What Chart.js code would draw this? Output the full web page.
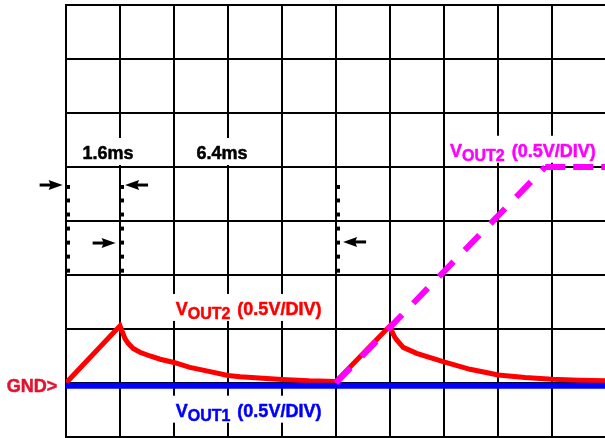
<!DOCTYPE html>
<html lang="en">
<head>
<meta charset="UTF-8">
<title>VOUT1 / VOUT2 scope capture</title>
<style>
  html, body { margin: 0; padding: 0; background: #fff; overflow: hidden; }
  #wrap { width: 606px; height: 438px; }
</style>
</head>
<body>
<div id="wrap"><canvas id="scope"></canvas></div>
<script src="https://cdn.jsdelivr.net/npm/chart.js"></script>
<script>
// x = time in ms (1.6ms/div), y = volts (0.5V/div), GND at 0
const xTicks = [0, 1.6, 3.2, 4.8, 6.4, 8.0, 9.6, 11.2, 12.8, 14.4, 16.0];
const yTicks = [-0.5, 0, 0.5, 1.0, 1.5, 2.0, 2.5, 3.0, 3.5];

// VOUT1 (blue) sits on ground
const vout1T = [0, 16];
const vout1V = [-0.025, -0.025];

// VOUT2 red trace: two ramps, each followed by a decay
const vout2T = [0, 1.6, 1.68, 1.75, 1.85, 1.99, 2.19, 2.49, 2.79, 3.2, 3.67, 4.27, 4.8, 5.16, 6.4, 7.2, 8.0,
                9.6, 9.68, 9.75, 9.8, 9.99, 10.39, 11.2, 11.97, 12.56, 12.8, 13.6, 14.4, 15.2, 16.0];
const vout2V = [0, 0.53, 0.465, 0.41, 0.365, 0.32, 0.285, 0.25, 0.22, 0.19, 0.145, 0.105, 0.07, 0.057, 0.032, 0.02, 0.014,
                0.53, 0.46, 0.42, 0.398, 0.33, 0.275, 0.195, 0.127, 0.09, 0.074, 0.05, 0.034, 0.026, 0.021];

// VOUT2 magenta dashed trace
const rampT = [8.0, 14.2, 16.0];
const rampV = [0, 2.0, 2.0];

// dotted time markers
const markerT = [0.06, 1.66, 8.06];
const markerV = [1.815, 1.69, 1.56, 1.43, 1.30, 1.17, 1.04];

// arrows: tip position, direction (1 = pointing right)
const arrowT = [-0.1, 1.75, 1.47, 8.21];
const arrowV = [1.833, 1.833, 1.296, 1.306];
const arrowDir = [1, -1, 1, -1];

const FONT = '"Liberation Sans", Arial, sans-serif';

const toPts = (ts, vs) => ts.map((t, i) => ({x: t, y: vs[i]}));

let markerPts = [];
markerT.forEach(t => markerV.forEach(v => markerPts.push({x: t, y: v})));

// text labels, anchored in data units
const labels = [
  {kind: 'plain', text: '1.6ms', x: 1.244, y: 2.074, color: '#000', align: 'center', box: true},
  {kind: 'plain', text: '6.4ms', x: 4.62, y: 2.074, color: '#000', align: 'center', box: true},
  {kind: 'v', sub: 'OUT2', x: 11.38, y: 2.095, color: '#ff00ff', box: true},
  {kind: 'v', sub: 'OUT2', x: 3.25, y: 0.63, color: '#ff0000', box: true},
  {kind: 'v', sub: 'OUT1', x: 3.25, y: -0.312, color: '#0000ff', box: true},
  {kind: 'plain', text: 'GND>', x: -0.258, y: -0.08, color: '#e3122e', align: 'right', box: false}
];

function labelWidth(ctx, l) {
  if (l.kind === 'plain') {
    ctx.font = 'bold 18px ' + FONT;
    return ctx.measureText(l.text).width;
  }
  ctx.font = 'bold 18px ' + FONT;
  let w = ctx.measureText('V').width;
  ctx.font = 'bold 16px ' + FONT;
  w += ctx.measureText(l.sub).width + 7;
  ctx.font = 'bold 18px ' + FONT;
  return w + ctx.measureText('(0.5V/DIV)').width;
}

// filled text with a thin outline in the same colour, to get the heavy look
function heavyText(ctx, s, x, y) {
  ctx.fillText(s, x, y);
  ctx.strokeText(s, x, y);
}

const overlay = {
  id: 'overlay',
  beforeDatasetsDraw(chart) {
    // white backing behind the labels (hides the grid there)
    const {ctx, scales: {x, y}} = chart;
    ctx.save();
    ctx.fillStyle = '#fff';
    labels.forEach(l => {
      if (!l.box) return;
      const w = labelWidth(ctx, l);
      const px = x.getPixelForValue(l.x), base = y.getPixelForValue(l.y);
      const left = l.align === 'center' ? px - w / 2 : px;
      ctx.fillRect(left - 5, base - 21, w + 10, 27);
    });
    ctx.restore();
  },
  afterDraw(chart) {
    const {ctx, scales: {x, y}} = chart;
    ctx.save();
    ctx.textBaseline = 'alphabetic';
    ctx.lineWidth = 0.5;
    ctx.lineJoin = 'round';
    labels.forEach(l => {
      const px = x.getPixelForValue(l.x), base = y.getPixelForValue(l.y);
      ctx.fillStyle = l.color;
      ctx.strokeStyle = l.color;
      if (l.kind === 'plain') {
        ctx.font = 'bold 18px ' + FONT;
        ctx.textAlign = l.align;
        heavyText(ctx, l.text, px, base);
        return;
      }
      ctx.textAlign = 'left';
      ctx.font = 'bold 18px ' + FONT;
      heavyText(ctx, 'V', px, base);
      let off = ctx.measureText('V').width;
      ctx.font = 'bold 16px ' + FONT;
      heavyText(ctx, l.sub, px + off, base + 4);
      off += ctx.measureText(l.sub).width + 7;
      ctx.font = 'bold 18px ' + FONT;
      heavyText(ctx, '(0.5V/DIV)', px + off, base);
    });

    // arrows
    ctx.fillStyle = '#000';
    ctx.strokeStyle = '#000';
    ctx.lineWidth = 3;
    arrowT.forEach((t, i) => {
      const tip = x.getPixelForValue(t), py = y.getPixelForValue(arrowV[i]), d = arrowDir[i];
      const neck = tip - d * 12, tail = tip - d * 23;
      ctx.beginPath();
      ctx.moveTo(tail, py);
      ctx.lineTo(neck + d, py);
      ctx.stroke();
      ctx.beginPath();
      ctx.moveTo(tip, py);
      ctx.lineTo(neck - d * 2, py - 5);
      ctx.lineTo(neck, py);
      ctx.lineTo(neck - d * 2, py + 5);
      ctx.closePath();
      ctx.fill();
    });
    ctx.restore();
  }
};

const ctx = document.getElementById('scope');

const gridOpts = {color: '#000', lineWidth: 2, drawTicks: false};
const borderOpts = {display: true, color: '#000', width: 2};

new Chart(ctx, {
  type: 'line',
  data: {
    datasets: [{
      label: 'VOUT2 ramp',
      data: toPts(rampT, rampV),
      borderColor: '#ff00ff',
      borderWidth: 6,
      borderCapStyle: 'butt',
      borderJoinStyle: 'round',
      pointRadius: 0,
      tension: 0,
      segment: {
        borderDash: c => c.p0DataIndex === 0 ? [21, 16] : [20, 8]
      }
    }, {
      label: 'VOUT1',
      data: toPts(vout1T, vout1V),
      borderColor: '#0000ff',
      borderWidth: 6,
      pointRadius: 0,
      tension: 0
    }, {
      label: 'VOUT2',
      data: toPts(vout2T, vout2V),
      borderColor: '#ff0000',
      borderWidth: 5,
      borderJoinStyle: 'miter',
      pointRadius: 0,
      tension: 0
    }, {
      label: 'markers',
      data: markerPts,
      showLine: false,
      pointStyle: 'rect',
      pointRadius: 2.8,
      pointHoverRadius: 2.8,
      pointBorderWidth: 0,
      pointBackgroundColor: '#000'
    }]
  },
  options: {
    responsive: true,
    maintainAspectRatio: false,
    animation: false,
    events: [],
    layout: {autoPadding: false, padding: {left: 66, top: 5, right: 0, bottom: 1}},
    plugins: {legend: {display: false}, tooltip: {enabled: false}},
    scales: {
      x: {
        type: 'linear', min: 0, max: 16,
        afterBuildTicks: s => { s.ticks = xTicks.map(v => ({value: v})); },
        ticks: {display: false},
        grid: gridOpts,
        border: borderOpts
      },
      y: {
        type: 'linear', min: -0.5, max: 3.5,
        afterBuildTicks: s => { s.ticks = yTicks.map(v => ({value: v})); },
        ticks: {display: false},
        grid: gridOpts,
        border: borderOpts
      }
    }
  },
  plugins: [overlay]
});
</script>
</body>
</html>
